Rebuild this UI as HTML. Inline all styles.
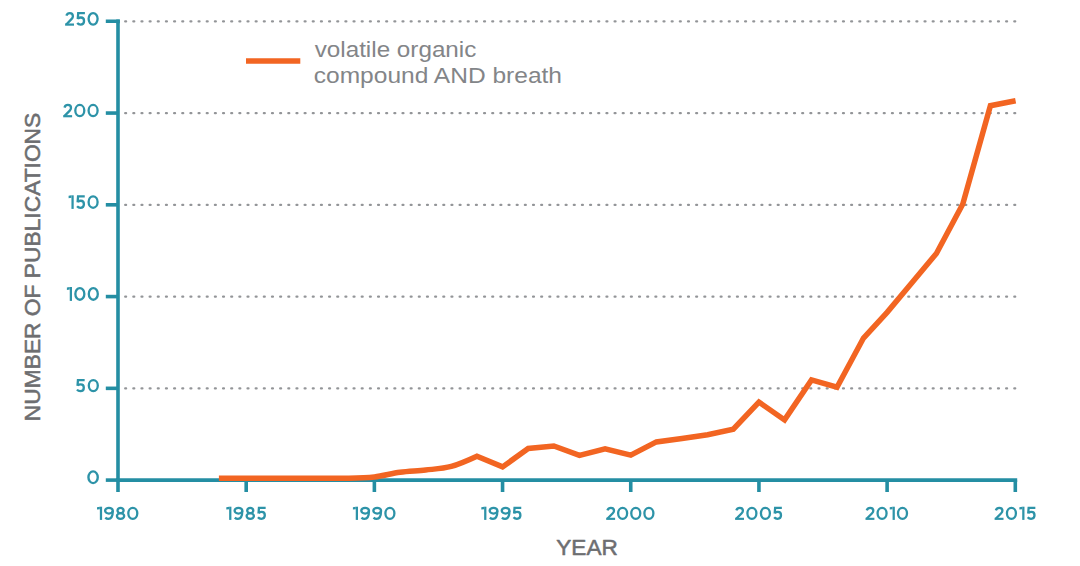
<!DOCTYPE html>
<html><head><meta charset="utf-8"><style>
html,body{margin:0;padding:0;background:#fff;}
body{width:1080px;height:566px;overflow:hidden;}
svg{display:block;}
text{font-family:"Liberation Sans",sans-serif;}
</style></head><body>
<svg width="1080" height="566" viewBox="0 0 1080 566">
<line x1="125.2" y1="388.44" x2="1017" y2="388.44" stroke="#939598" stroke-width="2.3" stroke-linecap="round" stroke-dasharray="0.9 7.257"/>
<line x1="125.2" y1="296.68" x2="1017" y2="296.68" stroke="#939598" stroke-width="2.3" stroke-linecap="round" stroke-dasharray="0.9 7.257"/>
<line x1="125.2" y1="204.92" x2="1017" y2="204.92" stroke="#939598" stroke-width="2.3" stroke-linecap="round" stroke-dasharray="0.9 7.257"/>
<line x1="125.2" y1="113.16" x2="1017" y2="113.16" stroke="#939598" stroke-width="2.3" stroke-linecap="round" stroke-dasharray="0.9 7.257"/>
<line x1="125.2" y1="21.40" x2="1017" y2="21.40" stroke="#939598" stroke-width="2.3" stroke-linecap="round" stroke-dasharray="0.9 7.257"/>
<line x1="118.0" y1="19.5" x2="118.0" y2="492" stroke="#248ea3" stroke-width="3.6"/>
<line x1="116.2" y1="480.1" x2="1017.1999999999999" y2="480.1" stroke="#248ea3" stroke-width="3.6"/>
<line x1="105.8" y1="388.34" x2="118.0" y2="388.34" stroke="#248ea3" stroke-width="3.6"/>
<line x1="105.8" y1="296.58" x2="118.0" y2="296.58" stroke="#248ea3" stroke-width="3.6"/>
<line x1="105.8" y1="204.82" x2="118.0" y2="204.82" stroke="#248ea3" stroke-width="3.6"/>
<line x1="105.8" y1="113.06" x2="118.0" y2="113.06" stroke="#248ea3" stroke-width="3.6"/>
<polyline points="105.8,21.30 118.0,21.30 118.0,23.30" fill="none" stroke="#248ea3" stroke-width="3.6"/>
<line x1="105.8" y1="480.1" x2="118.0" y2="480.1" stroke="#248ea3" stroke-width="3.6"/>
<line x1="246.19" y1="480.1" x2="246.19" y2="492" stroke="#248ea3" stroke-width="3.6"/>
<line x1="374.37" y1="480.1" x2="374.37" y2="492" stroke="#248ea3" stroke-width="3.6"/>
<line x1="502.56" y1="480.1" x2="502.56" y2="492" stroke="#248ea3" stroke-width="3.6"/>
<line x1="630.74" y1="480.1" x2="630.74" y2="492" stroke="#248ea3" stroke-width="3.6"/>
<line x1="758.93" y1="480.1" x2="758.93" y2="492" stroke="#248ea3" stroke-width="3.6"/>
<line x1="887.11" y1="480.1" x2="887.11" y2="492" stroke="#248ea3" stroke-width="3.6"/>
<line x1="1015.30" y1="480.1" x2="1015.30" y2="492" stroke="#248ea3" stroke-width="3.6"/>
<g transform="translate(65.10,12.00) scale(1.0000,1.0074)"><g fill="none" stroke="#2d93a8" stroke-width="2.3"><path d="M1.25,3.7 C1.85,1.95 3.2,1.1 4.65,1.1 C6.55,1.1 7.8,2.4 7.8,4.15 C7.8,5.3 7.25,6.15 6.35,7.05 L1.15,12.4"/></g><g fill="#2d93a8"><rect x="0" y="11.4" width="8.9" height="2.2"/></g></g><g transform="translate(76.35,12.00) scale(1.0000,1.0074)"><g fill="none" stroke="#2d93a8" stroke-width="2.3"><path d="M8.55,1.1 H1.85 L1.4,7.0 M1.45,6.5 C2.3,5.85 3.4,5.45 4.55,5.45 C6.5,5.45 7.7,6.85 7.7,8.9 C7.7,11.05 6.2,12.5 4.25,12.5 C2.85,12.5 1.65,11.9 0.85,10.95"/></g></g><g transform="translate(87.50,12.00) scale(1.0000,1.0074)"><g fill="none" stroke="#2d93a8" stroke-width="2.3"><ellipse cx="5.6" cy="6.8" rx="4.5" ry="5.7"/></g></g>
<g transform="translate(63.20,103.90) scale(1.0000,0.9853)"><g fill="none" stroke="#2d93a8" stroke-width="2.3"><path d="M1.25,3.7 C1.85,1.95 3.2,1.1 4.65,1.1 C6.55,1.1 7.8,2.4 7.8,4.15 C7.8,5.3 7.25,6.15 6.35,7.05 L1.15,12.4"/></g><g fill="#2d93a8"><rect x="0" y="11.4" width="8.9" height="2.2"/></g></g><g transform="translate(74.20,103.90) scale(1.0000,0.9853)"><g fill="none" stroke="#2d93a8" stroke-width="2.3"><ellipse cx="5.6" cy="6.8" rx="4.5" ry="5.7"/></g></g><g transform="translate(87.50,103.90) scale(1.0000,0.9853)"><g fill="none" stroke="#2d93a8" stroke-width="2.3"><ellipse cx="5.6" cy="6.8" rx="4.5" ry="5.7"/></g></g>
<g transform="translate(68.60,195.30) scale(1.0000,1.0000)"><g fill="#2d93a8"><path d="M0,0.5 L2.85,0 L2.85,2.5 L0,3.0 Z"/></g><g fill="#2d93a8"><rect x="2.85" y="0" width="2.25" height="13.6"/></g></g><g transform="translate(76.20,195.30) scale(1.0000,1.0000)"><g fill="none" stroke="#2d93a8" stroke-width="2.3"><path d="M8.55,1.1 H1.85 L1.4,7.0 M1.45,6.5 C2.3,5.85 3.4,5.45 4.55,5.45 C6.5,5.45 7.7,6.85 7.7,8.9 C7.7,11.05 6.2,12.5 4.25,12.5 C2.85,12.5 1.65,11.9 0.85,10.95"/></g></g><g transform="translate(87.50,195.30) scale(1.0000,1.0000)"><g fill="none" stroke="#2d93a8" stroke-width="2.3"><ellipse cx="5.6" cy="6.8" rx="4.5" ry="5.7"/></g></g>
<g transform="translate(66.90,287.00) scale(1.0000,1.0221)"><g fill="#2d93a8"><path d="M0,0.5 L2.85,0 L2.85,2.5 L0,3.0 Z"/></g><g fill="#2d93a8"><rect x="2.85" y="0" width="2.25" height="13.6"/></g></g><g transform="translate(74.25,287.00) scale(1.0000,1.0221)"><g fill="none" stroke="#2d93a8" stroke-width="2.3"><ellipse cx="5.6" cy="6.8" rx="4.5" ry="5.7"/></g></g><g transform="translate(87.70,287.00) scale(1.0000,1.0221)"><g fill="none" stroke="#2d93a8" stroke-width="2.3"><ellipse cx="5.6" cy="6.8" rx="4.5" ry="5.7"/></g></g>
<g transform="translate(76.10,379.00) scale(1.0000,0.9706)"><g fill="none" stroke="#2d93a8" stroke-width="2.3"><path d="M8.55,1.1 H1.85 L1.4,7.0 M1.45,6.5 C2.3,5.85 3.4,5.45 4.55,5.45 C6.5,5.45 7.7,6.85 7.7,8.9 C7.7,11.05 6.2,12.5 4.25,12.5 C2.85,12.5 1.65,11.9 0.85,10.95"/></g></g><g transform="translate(87.70,379.00) scale(1.0000,0.9706)"><g fill="none" stroke="#2d93a8" stroke-width="2.3"><ellipse cx="5.6" cy="6.8" rx="4.5" ry="5.7"/></g></g>
<g transform="translate(87.30,470.30) scale(1.0357,1.0221)"><g fill="none" stroke="#2d93a8" stroke-width="2.3"><ellipse cx="5.6" cy="6.8" rx="4.5" ry="5.7"/></g></g>
<g transform="translate(97.00,506.70) scale(1.0000,0.9706)"><g fill="#2d93a8"><path d="M0,0.5 L2.85,0 L2.85,2.5 L0,3.0 Z"/></g><g fill="#2d93a8"><rect x="2.85" y="0" width="2.25" height="13.6"/></g></g><g transform="translate(104.00,506.70) scale(1.0000,0.9706)"><g fill="none" stroke="#2d93a8" stroke-width="2.3"><ellipse cx="4.95" cy="4.1" rx="3.85" ry="3.0"/><path d="M8.8,4.1 C8.8,9.3 7.0,12.5 4.4,12.5 C3.1,12.5 2.1,12.05 1.3,11.25"/></g></g><g transform="translate(115.80,506.70) scale(1.0000,0.9706)"><g fill="none" stroke="#2d93a8" stroke-width="2.3"><ellipse cx="4.75" cy="3.9" rx="3.05" ry="2.8"/><ellipse cx="4.75" cy="9.6" rx="3.65" ry="2.9"/></g></g><g transform="translate(127.20,506.70) scale(1.0000,0.9706)"><g fill="none" stroke="#2d93a8" stroke-width="2.3"><ellipse cx="5.6" cy="6.8" rx="4.5" ry="5.7"/></g></g>
<g transform="translate(226.30,506.70) scale(1.0000,0.9706)"><g fill="#2d93a8"><path d="M0,0.5 L2.85,0 L2.85,2.5 L0,3.0 Z"/></g><g fill="#2d93a8"><rect x="2.85" y="0" width="2.25" height="13.6"/></g></g><g transform="translate(233.50,506.70) scale(1.0000,0.9706)"><g fill="none" stroke="#2d93a8" stroke-width="2.3"><ellipse cx="4.95" cy="4.1" rx="3.85" ry="3.0"/><path d="M8.8,4.1 C8.8,9.3 7.0,12.5 4.4,12.5 C3.1,12.5 2.1,12.05 1.3,11.25"/></g></g><g transform="translate(245.50,506.70) scale(1.0000,0.9706)"><g fill="none" stroke="#2d93a8" stroke-width="2.3"><ellipse cx="4.75" cy="3.9" rx="3.05" ry="2.8"/><ellipse cx="4.75" cy="9.6" rx="3.65" ry="2.9"/></g></g><g transform="translate(257.10,506.70) scale(1.0000,0.9706)"><g fill="none" stroke="#2d93a8" stroke-width="2.3"><path d="M8.55,1.1 H1.85 L1.4,7.0 M1.45,6.5 C2.3,5.85 3.4,5.45 4.55,5.45 C6.5,5.45 7.7,6.85 7.7,8.9 C7.7,11.05 6.2,12.5 4.25,12.5 C2.85,12.5 1.65,11.9 0.85,10.95"/></g></g>
<g transform="translate(352.90,506.70) scale(1.0000,0.9706)"><g fill="#2d93a8"><path d="M0,0.5 L2.85,0 L2.85,2.5 L0,3.0 Z"/></g><g fill="#2d93a8"><rect x="2.85" y="0" width="2.25" height="13.6"/></g></g><g transform="translate(360.17,506.70) scale(1.0000,0.9706)"><g fill="none" stroke="#2d93a8" stroke-width="2.3"><ellipse cx="4.95" cy="4.1" rx="3.85" ry="3.0"/><path d="M8.8,4.1 C8.8,9.3 7.0,12.5 4.4,12.5 C3.1,12.5 2.1,12.05 1.3,11.25"/></g></g><g transform="translate(372.23,506.70) scale(1.0000,0.9706)"><g fill="none" stroke="#2d93a8" stroke-width="2.3"><ellipse cx="4.95" cy="4.1" rx="3.85" ry="3.0"/><path d="M8.8,4.1 C8.8,9.3 7.0,12.5 4.4,12.5 C3.1,12.5 2.1,12.05 1.3,11.25"/></g></g><g transform="translate(384.30,506.70) scale(1.0000,0.9706)"><g fill="none" stroke="#2d93a8" stroke-width="2.3"><ellipse cx="5.6" cy="6.8" rx="4.5" ry="5.7"/></g></g>
<g transform="translate(481.30,506.70) scale(1.0000,0.9706)"><g fill="#2d93a8"><path d="M0,0.5 L2.85,0 L2.85,2.5 L0,3.0 Z"/></g><g fill="#2d93a8"><rect x="2.85" y="0" width="2.25" height="13.6"/></g></g><g transform="translate(488.57,506.70) scale(1.0000,0.9706)"><g fill="none" stroke="#2d93a8" stroke-width="2.3"><ellipse cx="4.95" cy="4.1" rx="3.85" ry="3.0"/><path d="M8.8,4.1 C8.8,9.3 7.0,12.5 4.4,12.5 C3.1,12.5 2.1,12.05 1.3,11.25"/></g></g><g transform="translate(500.63,506.70) scale(1.0000,0.9706)"><g fill="none" stroke="#2d93a8" stroke-width="2.3"><ellipse cx="4.95" cy="4.1" rx="3.85" ry="3.0"/><path d="M8.8,4.1 C8.8,9.3 7.0,12.5 4.4,12.5 C3.1,12.5 2.1,12.05 1.3,11.25"/></g></g><g transform="translate(512.70,506.70) scale(1.0000,0.9706)"><g fill="none" stroke="#2d93a8" stroke-width="2.3"><path d="M8.55,1.1 H1.85 L1.4,7.0 M1.45,6.5 C2.3,5.85 3.4,5.45 4.55,5.45 C6.5,5.45 7.7,6.85 7.7,8.9 C7.7,11.05 6.2,12.5 4.25,12.5 C2.85,12.5 1.65,11.9 0.85,10.95"/></g></g>
<g transform="translate(606.20,506.70) scale(1.0000,0.9706)"><g fill="none" stroke="#2d93a8" stroke-width="2.3"><path d="M1.25,3.7 C1.85,1.95 3.2,1.1 4.65,1.1 C6.55,1.1 7.8,2.4 7.8,4.15 C7.8,5.3 7.25,6.15 6.35,7.05 L1.15,12.4"/></g><g fill="#2d93a8"><rect x="0" y="11.4" width="8.9" height="2.2"/></g></g><g transform="translate(617.03,506.70) scale(1.0000,0.9706)"><g fill="none" stroke="#2d93a8" stroke-width="2.3"><ellipse cx="5.6" cy="6.8" rx="4.5" ry="5.7"/></g></g><g transform="translate(630.17,506.70) scale(1.0000,0.9706)"><g fill="none" stroke="#2d93a8" stroke-width="2.3"><ellipse cx="5.6" cy="6.8" rx="4.5" ry="5.7"/></g></g><g transform="translate(643.30,506.70) scale(1.0000,0.9706)"><g fill="none" stroke="#2d93a8" stroke-width="2.3"><ellipse cx="5.6" cy="6.8" rx="4.5" ry="5.7"/></g></g>
<g transform="translate(735.10,506.70) scale(1.0000,0.9706)"><g fill="none" stroke="#2d93a8" stroke-width="2.3"><path d="M1.25,3.7 C1.85,1.95 3.2,1.1 4.65,1.1 C6.55,1.1 7.8,2.4 7.8,4.15 C7.8,5.3 7.25,6.15 6.35,7.05 L1.15,12.4"/></g><g fill="#2d93a8"><rect x="0" y="11.4" width="8.9" height="2.2"/></g></g><g transform="translate(746.30,506.70) scale(1.0000,0.9706)"><g fill="none" stroke="#2d93a8" stroke-width="2.3"><ellipse cx="5.6" cy="6.8" rx="4.5" ry="5.7"/></g></g><g transform="translate(759.80,506.70) scale(1.0000,0.9706)"><g fill="none" stroke="#2d93a8" stroke-width="2.3"><ellipse cx="5.6" cy="6.8" rx="4.5" ry="5.7"/></g></g><g transform="translate(773.30,506.70) scale(1.0000,0.9706)"><g fill="none" stroke="#2d93a8" stroke-width="2.3"><path d="M8.55,1.1 H1.85 L1.4,7.0 M1.45,6.5 C2.3,5.85 3.4,5.45 4.55,5.45 C6.5,5.45 7.7,6.85 7.7,8.9 C7.7,11.05 6.2,12.5 4.25,12.5 C2.85,12.5 1.65,11.9 0.85,10.95"/></g></g>
<g transform="translate(865.50,506.70) scale(1.0000,0.9706)"><g fill="none" stroke="#2d93a8" stroke-width="2.3"><path d="M1.25,3.7 C1.85,1.95 3.2,1.1 4.65,1.1 C6.55,1.1 7.8,2.4 7.8,4.15 C7.8,5.3 7.25,6.15 6.35,7.05 L1.15,12.4"/></g><g fill="#2d93a8"><rect x="0" y="11.4" width="8.9" height="2.2"/></g></g><g transform="translate(876.47,506.70) scale(1.0000,0.9706)"><g fill="none" stroke="#2d93a8" stroke-width="2.3"><ellipse cx="5.6" cy="6.8" rx="4.5" ry="5.7"/></g></g><g transform="translate(889.73,506.70) scale(1.0000,0.9706)"><g fill="#2d93a8"><path d="M0,0.5 L2.85,0 L2.85,2.5 L0,3.0 Z"/></g><g fill="#2d93a8"><rect x="2.85" y="0" width="2.25" height="13.6"/></g></g><g transform="translate(896.90,506.70) scale(1.0000,0.9706)"><g fill="none" stroke="#2d93a8" stroke-width="2.3"><ellipse cx="5.6" cy="6.8" rx="4.5" ry="5.7"/></g></g>
<g transform="translate(994.60,506.70) scale(1.0000,0.9706)"><g fill="none" stroke="#2d93a8" stroke-width="2.3"><path d="M1.25,3.7 C1.85,1.95 3.2,1.1 4.65,1.1 C6.55,1.1 7.8,2.4 7.8,4.15 C7.8,5.3 7.25,6.15 6.35,7.05 L1.15,12.4"/></g><g fill="#2d93a8"><rect x="0" y="11.4" width="8.9" height="2.2"/></g></g><g transform="translate(1005.83,506.70) scale(1.0000,0.9706)"><g fill="none" stroke="#2d93a8" stroke-width="2.3"><ellipse cx="5.6" cy="6.8" rx="4.5" ry="5.7"/></g></g><g transform="translate(1019.37,506.70) scale(1.0000,0.9706)"><g fill="#2d93a8"><path d="M0,0.5 L2.85,0 L2.85,2.5 L0,3.0 Z"/></g><g fill="#2d93a8"><rect x="2.85" y="0" width="2.25" height="13.6"/></g></g><g transform="translate(1026.80,506.70) scale(1.0000,0.9706)"><g fill="none" stroke="#2d93a8" stroke-width="2.3"><path d="M8.55,1.1 H1.85 L1.4,7.0 M1.45,6.5 C2.3,5.85 3.4,5.45 4.55,5.45 C6.5,5.45 7.7,6.85 7.7,8.9 C7.7,11.05 6.2,12.5 4.25,12.5 C2.85,12.5 1.65,11.9 0.85,10.95"/></g></g>
<text transform="matrix(0.9821 0 0 0.9634 556.30 555.21)" font-size="23" fill="#6d6e71" stroke="#6d6e71" stroke-width="0.55" stroke-linejoin="round">YEAR</text>
<text transform="matrix(0 -0.9909 0.9881 0 40.00 421.19)" font-size="23" fill="#6d6e71" stroke="#6d6e71" stroke-width="0.55" stroke-linejoin="round">NUMBER OF PUBLICATIONS</text>
<text transform="matrix(1.1276 0 0 1 314.67 56.6)" font-size="21.5" fill="#838588">volatile organic</text>
<text transform="matrix(1.1417 0 0 1 313.76 82.9)" font-size="21.5" fill="#838588">compound AND breath</text>
<path d="M218.90,478.26 L246.19,478.26 L271.82,478.26 L297.46,478.26 L323.10,478.26 L348.73,478.26 C348.73,478.26 365.83,477.99 374.37,476.98 C382.92,475.97 391.46,473.37 400.01,472.21 C408.55,471.05 417.10,470.97 425.65,470.01 C434.19,469.04 442.74,468.72 451.28,466.43 C459.83,464.13 476.92,456.24 476.92,456.24 L502.56,466.89 L528.19,448.53 L553.83,445.97 L579.47,455.32 L605.11,448.90 L630.74,455.14 L656.38,441.93 L682.02,438.44 L707.65,434.77 L733.29,429.26 L758.93,402.10 L784.57,419.91 L811.50,379.90 L837.00,387.24 L863.50,338.06 L887.11,312.36 L912.75,281.71 L936.40,253.45 L962.80,204.09 L990.40,105.72 L1015.60,100.76" fill="none" stroke="#f26522" stroke-width="5.5" stroke-linejoin="miter" stroke-miterlimit="10"/>
<line x1="246" y1="61" x2="300.3" y2="61" stroke="#f26522" stroke-width="5.6"/>
</svg>
</body></html>
